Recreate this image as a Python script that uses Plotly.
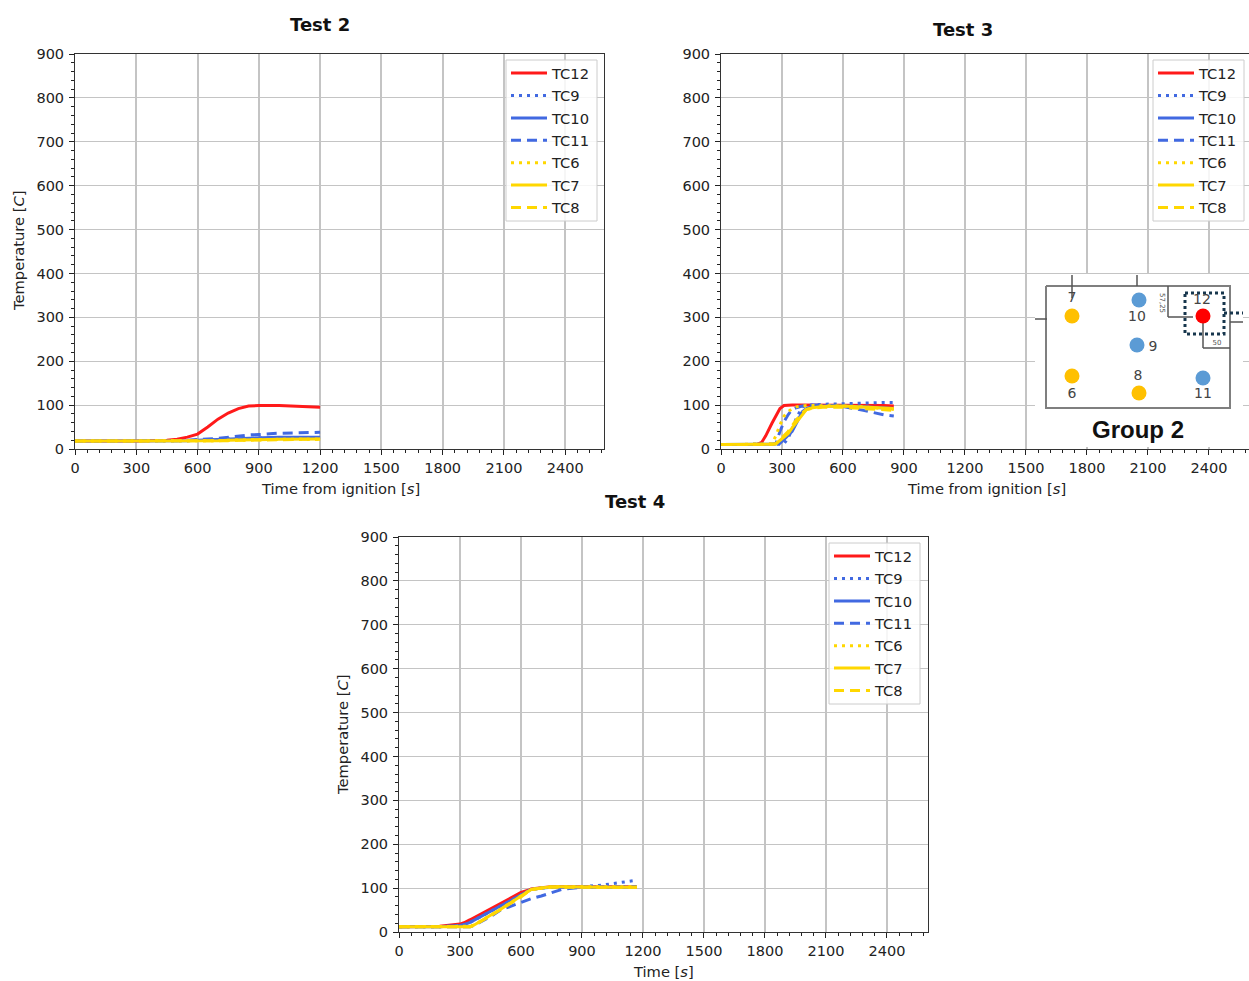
import plotly.graph_objects as go

W, H = 1249, 981

series_names = ["TC12", "TC9", "TC10", "TC11", "TC6", "TC7", "TC8"]
series_colors = ["#ff1a1a", "#4169e1", "#4169e1", "#4169e1", "#ffd700", "#ffd700", "#ffd700"]
series_dash = ["solid", "3px,5px", "solid", "10px,6px", "3px,5px", "solid", "10px,6px"]

# Test 2
t2_time = [0, 300, 450, 500, 550, 600, 650, 700, 750, 800, 850, 900, 1000, 1100, 1200]
t2_tc12 = [18, 18, 20, 22, 27, 34, 50, 68, 82, 92, 98, 99, 99, 97, 95]
t2_tc9 = [18, 18, 18, 18, 19, 20, 21, 22, 23, 24, 24, 25, 25, 25, 25]
t2_tc10 = [18, 18, 18, 18, 19, 20, 21, 22, 23, 24, 25, 26, 27, 27, 27]
t2_tc11 = [18, 18, 18, 19, 20, 22, 23, 24, 27, 30, 32, 33, 36, 37, 38]
t2_tc6 = [18, 18, 18, 18, 18, 18, 19, 19, 20, 20, 21, 21, 22, 22, 22]
t2_tc7 = [18, 18, 18, 18, 18, 18, 19, 19, 20, 20, 21, 21, 22, 22, 23]
t2_tc8 = [18, 18, 18, 18, 18, 18, 19, 19, 19, 20, 20, 21, 21, 22, 22]

# Test 3
t3_time = [0, 180, 200, 220, 250, 270, 290, 310, 330, 350, 370, 400, 420, 450, 500, 600, 700, 800, 850]
t3_tc12 = [10, 11, 15, 30, 58, 75, 92, 99, 100, 100, 100, 100, 100, 100, 100, 100, 100, 99, 98]
t3_tc9 = [10, 10, 10, 10, 10, 11, 11, 12, 25, 45, 70, 96, 99, 100, 102, 103, 105, 106, 106]
t3_tc10 = [10, 10, 10, 10, 11, 12, 13, 22, 30, 40, 58, 85, 92, 97, 98, 98, 96, 93, 92]
t3_tc11 = [10, 10, 10, 10, 11, 12, 40, 62, 78, 90, 94, 98, 99, 100, 100, 97, 88, 78, 75]
t3_tc6 = [10, 10, 10, 11, 12, 30, 55, 75, 85, 92, 96, 98, 99, 99, 99, 98, 96, 92, 90]
t3_tc7 = [10, 10, 10, 10, 11, 12, 20, 28, 35, 48, 60, 80, 90, 94, 97, 98, 95, 92, 92]
t3_tc8 = [10, 10, 10, 10, 11, 12, 22, 30, 40, 53, 66, 82, 90, 93, 95, 95, 92, 89, 88]

# Test 4
t4_time = [0, 200, 300, 320, 350, 370, 400, 450, 500, 600, 640, 650, 700, 750, 800, 900, 1000, 1100, 1170]
t4_tc12 = [12, 13, 18, 21, 28, 33, 40, 53, 65, 90, 96, 98, 101, 103, 103, 103, 103, 103, 103]
t4_tc9 = [12, 12, 15, 17, 22, 27, 35, 48, 60, 85, 94, 97, 100, 102, 102, 103, 107, 113, 118]
t4_tc10 = [12, 12, 15, 17, 22, 27, 35, 48, 60, 85, 94, 97, 100, 102, 102, 102, 102, 102, 102]
t4_tc11 = [12, 12, 11, 11, 12, 15, 22, 35, 50, 68, 74, 76, 82, 90, 97, 102, 103, 103, 103]
t4_tc6 = [12, 12, 12, 12, 13, 16, 25, 38, 52, 82, 96, 97, 100, 103, 103, 103, 103, 103, 103]
t4_tc7 = [12, 12, 12, 12, 12, 16, 25, 38, 52, 82, 96, 97, 100, 103, 103, 102, 102, 102, 102]
t4_tc8 = [12, 12, 12, 12, 12, 15, 24, 37, 51, 80, 94, 96, 100, 102, 102, 102, 102, 102, 102]

x_ticks = [0, 300, 600, 900, 1200, 1500, 1800, 2100, 2400]
y_ticks = [0, 100, 200, 300, 400, 500, 600, 700, 800, 900]

# Sensor map inset (Group 2)
sensor_x = [1072, 1072, 1139, 1139, 1137, 1203, 1203]
sensor_y = [316, 376, 393, 300, 345, 378, 316]
sensor_colors = ["#ffc000", "#ffc000", "#ffc000", "#5b9bd5", "#5b9bd5", "#5b9bd5", "#ff0000"]
label_text = ["7", "6", "8", "10", "9", "11", "12"]
label_x = [1072, 1072, 1138, 1137, 1153, 1203, 1202]
label_y = [298, 394, 376, 317, 347, 394, 300]

fig = go.Figure()


def dom_x(a, b):
    return [a / W, b / W]


def dom_y(top, bottom):
    return [1 - bottom / H, 1 - top / H]


def paper_text(text, x, y, size=14.7, color="#222222", angle=0):
    return dict(text=text, x=x / W, y=1 - y / H, xref="paper", yref="paper", showarrow=False,
                xanchor="center", yanchor="middle", textangle=angle,
                font=dict(family="DejaVu Sans", size=size, color=color))


panels = [
    ("", t2_time, [t2_tc12, t2_tc9, t2_tc10, t2_tc11, t2_tc6, t2_tc7, t2_tc8],
     (75, 604), (54, 449), 2590, 506, 60),
    ("2", t3_time, [t3_tc12, t3_tc9, t3_tc10, t3_tc11, t3_tc6, t3_tc7, t3_tc8],
     (721, 1249), (54, 449), 2597, 1153, 60),
    ("3", t4_time, [t4_tc12, t4_tc9, t4_tc10, t4_tc11, t4_tc6, t4_tc7, t4_tc8],
     (399, 928), (537, 932), 2602, 829, 543),
]

shapes = []
for sfx, tm, vals, xd, yd, xmax, lx, ly in panels:
    for name, v, c, d in zip(series_names, vals, series_colors, series_dash):
        fig.add_trace(go.Scatter(
            x=tm, y=v, name=name, mode="lines",
            line=dict(color=c, dash=d, width=3),
            xaxis="x" + sfx, yaxis="y" + sfx,
            legend="legend" + sfx, legendgroup=sfx + name,
        ))
    common = dict(
        showline=True, mirror=True, linecolor="#333333", linewidth=1,
        ticks="outside", ticklen=5, tickcolor="#222222", automargin=False,
        tickfont=dict(family="DejaVu Sans", size=14.5, color="#222222"),
        showgrid=True, gridcolor="#c4c4c4", zeroline=False,
    )
    fig.layout["xaxis" + sfx] = dict(
        common, domain=dom_x(*xd), range=[0, xmax], anchor="y" + sfx,
        tickvals=x_ticks, gridwidth=1.6, ticklabelstandoff=1,
        minor=dict(dtick=60, ticks="outside", ticklen=3, tickcolor="#222222", showgrid=False),
    )
    fig.layout["yaxis" + sfx] = dict(
        common, domain=dom_y(*yd), range=[0, 900], anchor="x" + sfx,
        tickvals=y_ticks, gridwidth=1.2, ticklabelstandoff=2,
        minor=dict(dtick=20, ticks="outside", ticklen=3, tickcolor="#222222", showgrid=False),
    )
    # Legend frame drawn separately so that the rows can sit where the reference has them
    shapes.append(dict(type="rect", xref="paper", yref="paper", layer="above",
                       x0=lx / W, x1=(lx + 91) / W, y0=1 - (ly + 161) / H, y1=1 - ly / H,
                       fillcolor="rgba(255,255,255,0.85)", line=dict(color="#cccccc", width=1)))
    fig.layout["legend" + sfx] = dict(
        x=lx / W, y=1 - (ly - 3) / H, xanchor="left", yanchor="top",
        bgcolor="rgba(0,0,0,0)", borderwidth=0,
        font=dict(family="DejaVu Sans", size=14.7, color="#222222"),
        traceorder="grouped", tracegroupgap=0.3, itemwidth=36,
    )

# Inset axes use the schematic's own drawing units
ix = "x4"
iy = "y4"
fig.layout["xaxis4"] = dict(domain=dom_x(1035, 1243), range=[1035, 1243], visible=False, anchor="y4", fixedrange=True)
fig.layout["yaxis4"] = dict(domain=dom_y(274, 447), range=[447, 274], visible=False, anchor="x4", fixedrange=True)


def seg(xs, ys, color="#6e6e6e", width=1.5, dash="solid"):
    fig.add_trace(go.Scatter(x=xs, y=ys, mode="lines", xaxis=ix, yaxis=iy, showlegend=False,
                             hoverinfo="skip", line=dict(color=color, width=width, dash=dash)))


fig.add_trace(go.Scatter(x=[1035, 1243, 1243, 1035, 1035], y=[274, 274, 447, 447, 274], mode="lines",
                         fill="toself", fillcolor="white", line=dict(width=0), xaxis=ix, yaxis=iy,
                         showlegend=False, hoverinfo="skip"))
seg([1046, 1230, 1230, 1046, 1046], [286, 286, 408, 408, 286], "#7f7f7f", 2)
seg([1072, 1072], [275, 298], "#555555")
seg([1137, 1137], [275, 286], "#555555")
seg([1168, 1168], [286, 317], "#555555")
seg([1168, 1193], [317, 317], "#555555")
seg([1203, 1203], [323, 348], "#555555")
seg([1203, 1230], [348, 348], "#555555")
seg([1035, 1047], [319, 319], "#555555")
seg([1230, 1243], [322, 322], "#555555")
seg([1185, 1224, 1224, 1185, 1185], [293, 293, 334, 334, 293], "#17364d", 3, "dot")
seg([1224, 1243], [313, 313], "#17364d", 3, "dot")

fig.add_trace(go.Scatter(x=sensor_x, y=sensor_y, mode="markers", xaxis=ix, yaxis=iy, showlegend=False,
                         hoverinfo="skip", marker=dict(size=15, color=sensor_colors, line=dict(width=0))))
fig.add_trace(go.Scatter(x=label_x, y=label_y, mode="text", text=label_text, xaxis=ix, yaxis=iy,
                         showlegend=False, hoverinfo="skip",
                         textfont=dict(family="DejaVu Sans", size=14, color="#444444")))
fig.add_trace(go.Scatter(x=[1138], y=[432], mode="text", text=["<b>Group 2</b>"], xaxis=ix, yaxis=iy,
                         showlegend=False, hoverinfo="skip",
                         textfont=dict(family="Liberation Sans", size=24, color="#111111")))
fig.add_trace(go.Scatter(x=[1217], y=[343], mode="text", text=["50"], xaxis=ix, yaxis=iy,
                         showlegend=False, hoverinfo="skip",
                         textfont=dict(family="DejaVu Sans", size=7, color="#555555")))

annotations = [
    paper_text("<b>Test 2</b>", 320, 25, 18, "#111111"),
    paper_text("<b>Test 3</b>", 963, 29, 18, "#111111"),
    paper_text("<b>Test 4</b>", 635, 501, 18, "#111111"),
    paper_text("Time from ignition [<i>s</i>]", 340, 488),
    paper_text("Time from ignition [<i>s</i>]", 986, 488),
    paper_text("Time [<i>s</i>]", 663, 971),
    paper_text("Temperature [<i>C</i>]", 19, 251, angle=-90),
    paper_text("Temperature [<i>C</i>]", 342, 735, angle=-90),
    paper_text("57,25", 1162, 303, 7, "#555555", 90),
]

fig.update_layout(
    width=W, height=H, autosize=False, margin=dict(l=0, r=0, t=0, b=0),
    paper_bgcolor="white", plot_bgcolor="white", annotations=annotations, shapes=shapes,
)

fig.write_html("out.html", config=dict(displayModeBar=False),
               post_script="document.body.style.margin='0';document.body.style.overflow='hidden';")
